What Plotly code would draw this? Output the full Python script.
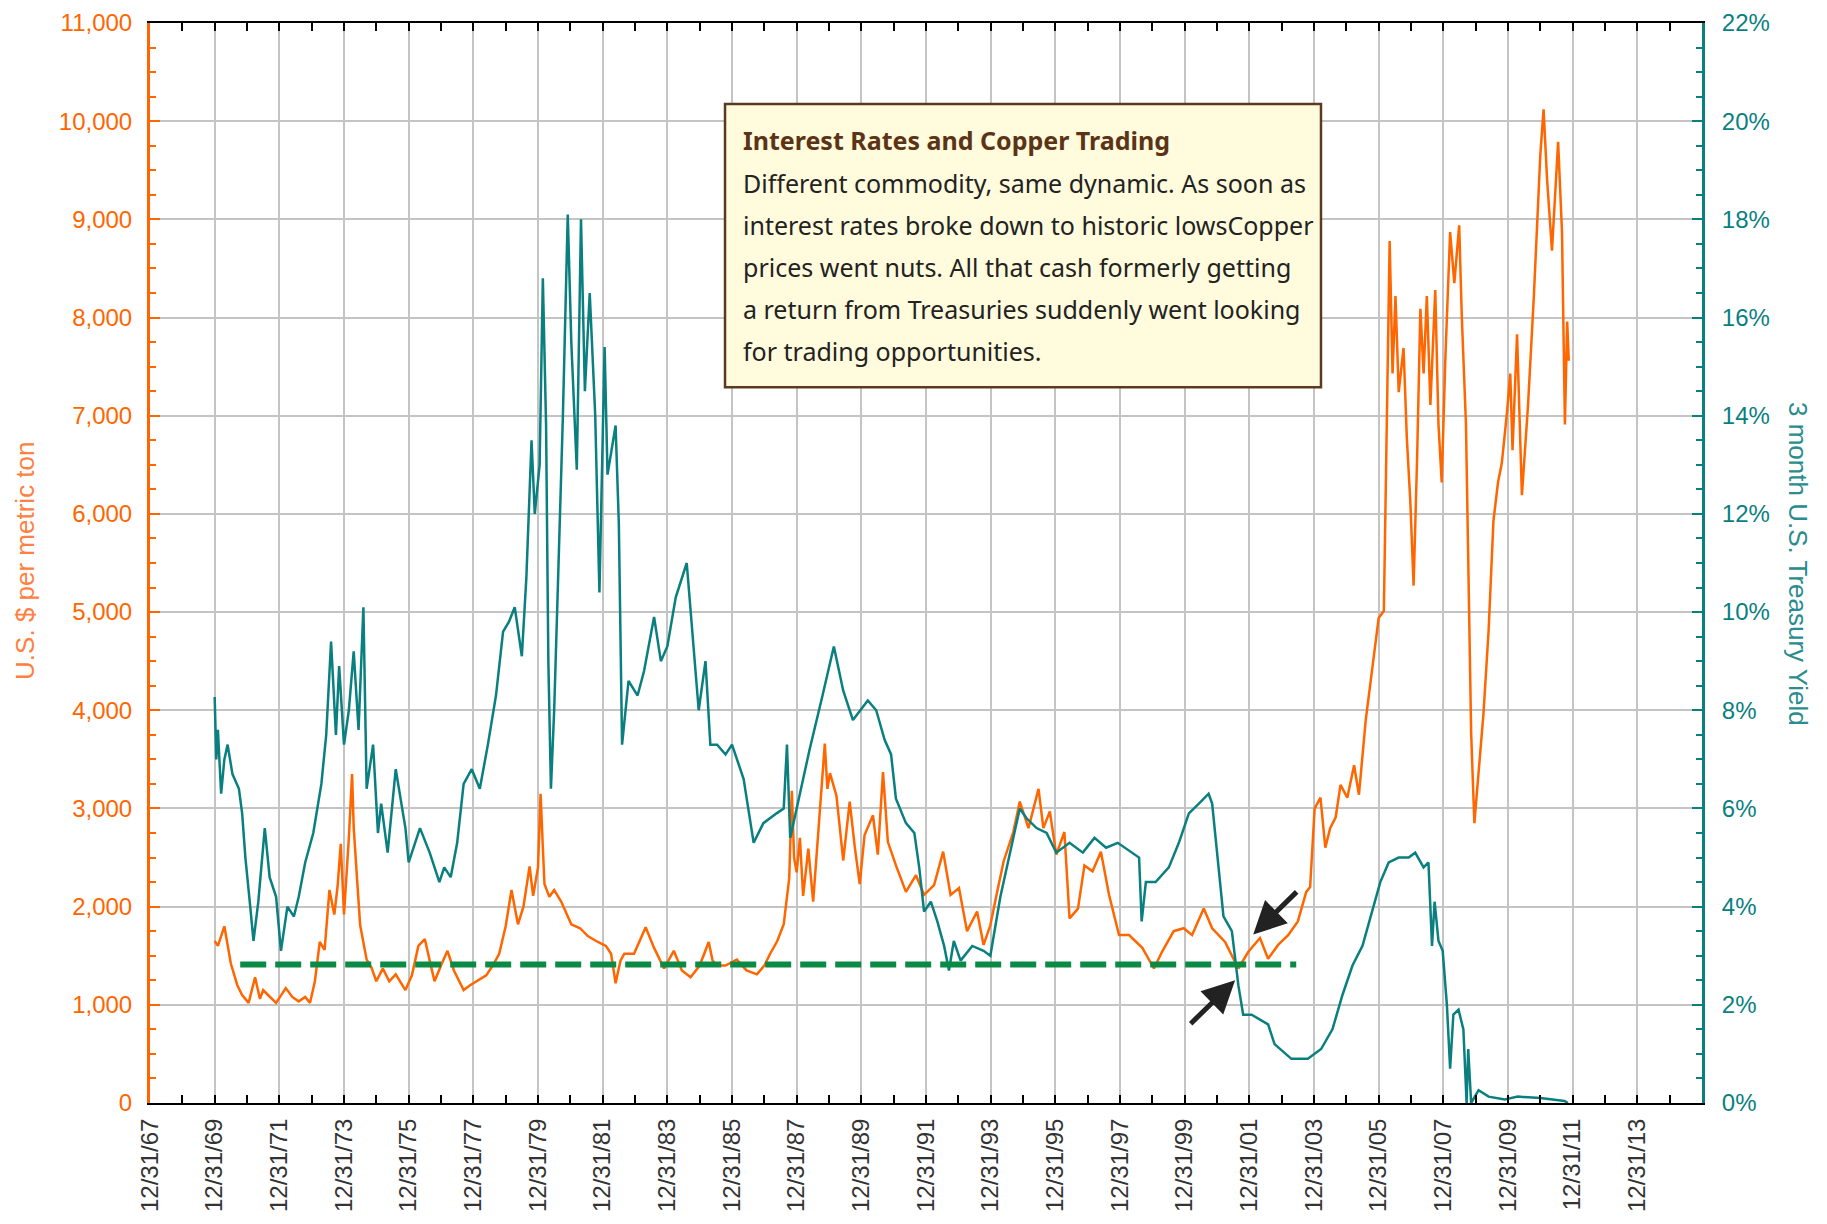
import plotly.graph_objects as go

# copper price, US$ per metric ton (x = decimal year)
copper_year = [
    1970.0, 1970.1, 1970.3, 1970.5, 1970.7, 1970.85, 1971.05, 1971.25, 1971.4, 1971.5,
    1971.65, 1971.9, 1972.2, 1972.4, 1972.6, 1972.8, 1972.95, 1973.1, 1973.25, 1973.4,
    1973.55, 1973.7, 1973.8, 1973.9, 1974.0, 1974.15, 1974.25, 1974.3, 1974.4, 1974.5,
    1974.7, 1974.85, 1975.0, 1975.2, 1975.4, 1975.6, 1975.9, 1976.1, 1976.3, 1976.5,
    1976.65, 1976.8, 1977.0, 1977.2, 1977.4, 1977.7, 1977.9, 1978.1, 1978.4, 1978.6,
    1978.8, 1979.0, 1979.18, 1979.38, 1979.55, 1979.74, 1979.85, 1980.0, 1980.08, 1980.15,
    1980.2, 1980.35, 1980.5, 1980.72, 1981.03, 1981.3, 1981.54, 1981.85, 1982.1, 1982.26,
    1982.4, 1982.55, 1982.67, 1982.97, 1983.15, 1983.33, 1983.59, 1983.9, 1984.2, 1984.45,
    1984.72, 1985.0, 1985.28, 1985.4, 1985.54, 1985.8, 1986.15, 1986.45, 1986.77, 1987.0,
    1987.18, 1987.4, 1987.6, 1987.77, 1987.85, 1987.92, 1988.0, 1988.1, 1988.2, 1988.36,
    1988.51, 1988.72, 1988.87, 1988.95, 1989.03, 1989.23, 1989.44, 1989.64, 1989.8, 1989.95,
    1990.1, 1990.36, 1990.51, 1990.67, 1990.82, 1991.07, 1991.38, 1991.69, 1991.94, 1992.25,
    1992.53, 1992.76, 1993.02, 1993.27, 1993.58, 1993.78, 1993.99, 1994.2, 1994.4, 1994.7,
    1994.9, 1995.17, 1995.48, 1995.63, 1995.83, 1996.03, 1996.28, 1996.44, 1996.7, 1996.9,
    1997.15, 1997.41, 1997.66, 1997.97, 1998.28, 1998.69, 1999.05, 1999.3, 1999.66, 1999.97,
    2000.23, 2000.59, 2000.85, 2001.25, 2001.66, 2001.97, 2002.33, 2002.58, 2002.89, 2003.2,
    2003.5, 2003.76, 2003.88, 2004.02, 2004.2, 2004.35, 2004.5, 2004.67, 2004.82, 2005.03,
    2005.24, 2005.39, 2005.6, 2005.8, 2006.0, 2006.16, 2006.26, 2006.34, 2006.43, 2006.52,
    2006.62, 2006.77, 2006.87, 2006.98, 2007.08, 2007.19, 2007.29, 2007.39, 2007.49, 2007.6,
    2007.75, 2007.85, 2007.95, 2008.06, 2008.21, 2008.34, 2008.49, 2008.57, 2008.7, 2008.8,
    2008.86, 2008.96, 2009.09, 2009.24, 2009.4, 2009.55, 2009.69, 2009.81, 2009.97, 2010.07,
    2010.14, 2010.28, 2010.43, 2010.62, 2010.8, 2010.9, 2011.0, 2011.1, 2011.21, 2011.36,
    2011.55, 2011.67, 2011.76, 2011.83, 2011.88,
]
copper_usd = [
    1650, 1600, 1800, 1420, 1200, 1100, 1020, 1280, 1060, 1150,
    1100, 1020, 1170, 1080, 1035, 1080, 1020, 1240, 1640, 1560,
    2170, 1920, 2200, 2640, 1920, 2700, 3350, 2810, 2300, 1810,
    1460, 1380, 1240, 1370, 1240, 1310, 1150, 1300, 1600, 1670,
    1450, 1240, 1400, 1550, 1350, 1150, 1200, 1240, 1300, 1400,
    1520, 1800, 2170, 1820, 2000, 2410, 2110, 2400, 3150, 2600,
    2230, 2100, 2170, 2050, 1820, 1780, 1700, 1640, 1600, 1520,
    1220, 1450, 1520, 1520, 1650, 1790, 1580, 1370, 1550, 1350,
    1280, 1400, 1640, 1450, 1400, 1400, 1460, 1350, 1310, 1400,
    1520, 1650, 1820, 2290, 3180, 2500, 2350, 2700, 2110, 2590,
    2050, 2950, 3660, 3200, 3360, 3130, 2470, 3070, 2600, 2230,
    2730, 2930, 2530, 3370, 2660, 2420, 2150, 2320, 2120, 2220,
    2560, 2120, 2190, 1750, 1950, 1610, 1810, 2150, 2460, 2760,
    3070, 2800, 3200, 2800, 2970, 2530, 2760, 1880, 1980, 2420,
    2360, 2560, 2120, 1710, 1710, 1580, 1370, 1540, 1750, 1780,
    1710, 1980, 1780, 1640, 1370, 1540, 1680, 1470, 1610, 1710,
    1850, 2150, 2200, 3000, 3110, 2600, 2800, 2910, 3240, 3110,
    3440, 3140, 3900, 4420, 4940, 5010, 6910, 8780, 7430, 8220,
    7240, 7690, 6780, 6120, 5270, 6580, 8090, 7430, 8220, 7110,
    8280, 6910, 6320, 7560, 8870, 8350, 8940, 8020, 6910, 4940,
    3770, 2850, 3370, 3960, 4810, 5930, 6320, 6520, 7040, 7430,
    6650, 7830, 6190, 7110, 8220, 9000, 9660, 10120, 9400, 8680,
    9790, 8870, 6910, 7960, 7560,
]

# 3 month U.S. Treasury yield, percent
yield_year = [
    1970.0, 1970.05, 1970.1, 1970.2, 1970.3, 1970.4, 1970.55, 1970.75, 1970.85, 1970.95,
    1971.1, 1971.2, 1971.35, 1971.55, 1971.7, 1971.9, 1972.05, 1972.25, 1972.45, 1972.6,
    1972.8, 1973.05, 1973.3, 1973.45, 1973.6, 1973.75, 1973.85, 1974.0, 1974.15, 1974.3,
    1974.45, 1974.6, 1974.7, 1974.9, 1975.05, 1975.15, 1975.35, 1975.6, 1975.9, 1976.0,
    1976.35, 1976.65, 1976.95, 1977.1, 1977.3, 1977.5, 1977.7, 1977.95, 1978.2, 1978.45,
    1978.7, 1978.92, 1979.1, 1979.28, 1979.5, 1979.64, 1979.8, 1979.9, 1980.05, 1980.15,
    1980.25, 1980.32, 1980.4, 1980.5, 1980.6, 1980.77, 1980.92, 1981.03, 1981.2, 1981.33,
    1981.45, 1981.6, 1981.77, 1981.9, 1982.06, 1982.15, 1982.4, 1982.5, 1982.6, 1982.8,
    1983.08, 1983.28, 1983.59, 1983.8, 1984.0, 1984.26, 1984.6, 1984.77, 1984.97, 1985.18,
    1985.33, 1985.54, 1985.8, 1986.0, 1986.36, 1986.67, 1986.97, 1987.38, 1987.6, 1987.7,
    1987.8, 1988.0, 1988.4, 1988.8, 1989.15, 1989.44, 1989.74, 1990.2, 1990.46, 1990.72,
    1990.92, 1991.07, 1991.38, 1991.64, 1991.79, 1991.94, 1992.15, 1992.35, 1992.56, 1992.71,
    1992.86, 1993.07, 1993.43, 1993.78, 1993.99, 1994.3, 1994.6, 1994.9, 1995.11, 1995.42,
    1995.73, 1996.03, 1996.44, 1996.85, 1997.21, 1997.57, 1997.93, 1998.39, 1998.59, 1998.67,
    1998.8, 1999.1, 1999.51, 1999.82, 2000.13, 2000.44, 2000.74, 2000.85, 2001.0, 2001.2,
    2001.46, 2001.66, 2001.81, 2002.07, 2002.58, 2002.78, 2003.3, 2003.81, 2004.22, 2004.57,
    2004.88, 2005.19, 2005.5, 2005.8, 2006.05, 2006.31, 2006.62, 2006.93, 2007.13, 2007.39,
    2007.54, 2007.65, 2007.73, 2007.85, 2007.98, 2008.11, 2008.21, 2008.31, 2008.47, 2008.62,
    2008.72, 2008.77, 2008.86, 2009.09, 2009.4, 2009.9, 2010.3, 2011.0, 2011.75, 2011.85,
]
yield_pct = [
    8.27, 7.0, 7.6, 6.3, 7.0, 7.3, 6.7, 6.4, 5.9, 5.0,
    4.0, 3.3, 4.1, 5.6, 4.6, 4.2, 3.1, 4.0, 3.8, 4.2,
    4.9, 5.5, 6.5, 7.5, 9.4, 7.5, 8.9, 7.3, 8.0, 9.2,
    7.6, 10.1, 6.4, 7.3, 5.5, 6.1, 5.1, 6.8, 5.6, 4.9,
    5.6, 5.1, 4.5, 4.8, 4.6, 5.3, 6.5, 6.8, 6.4, 7.3,
    8.3, 9.6, 9.8, 10.1, 9.1, 10.7, 13.5, 12.0, 13.0, 16.8,
    13.8, 9.0, 6.4, 8.0, 10.2, 14.0, 18.1, 15.5, 12.9, 18.0,
    14.5, 16.5, 14.0, 10.4, 15.4, 12.8, 13.8, 11.8, 7.3, 8.6,
    8.3, 8.8, 9.9, 9.0, 9.3, 10.3, 11.0, 9.7, 8.0, 9.0,
    7.3, 7.3, 7.1, 7.3, 6.6, 5.3, 5.7, 5.9, 6.0, 7.3,
    5.4, 6.0, 7.2, 8.3, 9.3, 8.4, 7.8, 8.2, 8.0, 7.4,
    7.1, 6.2, 5.7, 5.5, 4.8, 3.9, 4.1, 3.7, 3.2, 2.7,
    3.3, 2.9, 3.2, 3.1, 3.0, 4.2, 5.1, 6.0, 5.8, 5.6,
    5.5, 5.1, 5.3, 5.1, 5.4, 5.2, 5.3, 5.1, 5.0, 3.7,
    4.5, 4.5, 4.8, 5.3, 5.9, 6.1, 6.3, 6.1, 5.1, 3.8,
    3.5, 2.4, 1.8, 1.8, 1.6, 1.2, 0.9, 0.9, 1.1, 1.5,
    2.2, 2.8, 3.2, 3.9, 4.5, 4.9, 5.0, 5.0, 5.1, 4.8,
    4.9, 3.2, 4.1, 3.3, 3.1, 2.0, 0.7, 1.8, 1.9, 1.5,
    0.0, 1.1, 0.0, 0.26, 0.13, 0.07, 0.13, 0.1, 0.04, 0.0,
]

x_tick_years = list(range(1968, 2016, 2))
x_tick_labels = [f"12/31/{(y - 1) % 100:02d}" for y in x_tick_years]
copper_ticks = list(range(0, 11001, 1000))
yield_ticks = list(range(0, 23, 2))
yield_labels = [f"{v}%" for v in yield_ticks]

# level the copper floor sat at, and the span of the dashed guide
floor_level = 1410
floor_start, floor_end = 1970.79, 2003.45

note_title = "Interest Rates and Copper Trading"
note_lines = [
    "Different commodity, same dynamic. As soon as",
    "interest rates broke down to historic lowsCopper",
    "prices went nuts. All that cash formerly getting",
    "a return from Treasuries suddenly went looking",
    "for trading opportunities.",
]

ORANGE = "#ff6600"
TEAL = "#0a7f7f"
GRID = "#c4c4c4"
TICK_FONT = "Liberation Sans, Arial, sans-serif"
NOTE_FONT = "Noto Sans, sans-serif"

fig = go.Figure()
fig.add_trace(go.Scatter(x=copper_year, y=copper_usd, mode="lines",
                         line=dict(color=ORANGE, width=2.5), yaxis="y"))
fig.add_trace(go.Scatter(x=yield_year, y=yield_pct, mode="lines",
                         line=dict(color=TEAL, width=2.5), yaxis="y2"))

# the page body adds an 8px margin, so the canvas is trimmed by that much
fig.update_layout(
    width=1811,
    height=1208,
    margin=dict(l=142, r=117, t=15, b=113),
    paper_bgcolor="white",
    plot_bgcolor="white",
    showlegend=False,
    xaxis=dict(
        range=[1968, 2016],
        automargin=False,
        tickmode="array",
        tickvals=x_tick_years,
        ticktext=x_tick_labels,
        tickangle=-90,
        tickfont=dict(family=TICK_FONT, size=24, color="#333333"),
        ticklabelstandoff=4,
        ticklabeloverflow="allow",
        ticks="inside", ticklen=8, tickwidth=2, tickcolor="black",
        showline=True, linecolor="black", linewidth=2, mirror="allticks",
        showgrid=True, gridcolor=GRID, gridwidth=2, zeroline=False,
        minor=dict(tickmode="linear", tick0=1968, dtick=1, ticks="inside",
                   ticklen=7, tickwidth=2, tickcolor="black", showgrid=False),
    ),
    yaxis=dict(
        range=[0, 11000],
        automargin=False,
        tickmode="array",
        tickvals=copper_ticks,
        tickformat=",d",
        tickfont=dict(family=TICK_FONT, size=24, color=ORANGE),
        ticks="inside", ticklen=10, tickwidth=2, tickcolor=ORANGE,
        ticklabelstandoff=10,
        ticklabeloverflow="allow",
        showline=True, linecolor=ORANGE, linewidth=3,
        showgrid=True, gridcolor=GRID, gridwidth=2, zeroline=False,
        minor=dict(dtick=250, ticks="inside", ticklen=6, tickwidth=2,
                   tickcolor=ORANGE, showgrid=False),
    ),
    yaxis2=dict(
        range=[0, 22],
        automargin=False,
        overlaying="y",
        side="right",
        tickmode="array",
        tickvals=yield_ticks,
        ticktext=yield_labels,
        tickfont=dict(family=TICK_FONT, size=24, color=TEAL),
        ticks="inside", ticklen=10, tickwidth=2, tickcolor=TEAL,
        ticklabelstandoff=12,
        ticklabeloverflow="allow",
        showline=True, linecolor=TEAL, linewidth=3,
        showgrid=False, zeroline=False,
        minor=dict(dtick=0.5, ticks="inside", ticklen=6, tickwidth=2,
                   tickcolor=TEAL, showgrid=False),
    ),
)

# axis titles
fig.add_annotation(text="U.S. $ per metric ton", xref="paper", yref="paper",
                   x=-0.0805, y=0.502, xanchor="center", yanchor="middle",
                   textangle=-90, showarrow=False,
                   font=dict(family=TICK_FONT, size=26, color="#ff8040"))
fig.add_annotation(text="3 month U.S. Treasury Yield", xref="paper", yref="paper",
                   x=1.0619, y=0.499, xanchor="center", yanchor="middle",
                   textangle=90, showarrow=False,
                   font=dict(family=TICK_FONT, size=26, color="#2a8c8c"))

# dashed floor line
fig.add_shape(type="line", xref="x", yref="y", x0=floor_start, x1=floor_end,
              y0=floor_level, y1=floor_level, layer="above",
              line=dict(color="#0b8a45", width=6, dash="26px,9px"))

# arrows pointing at the crossover
fig.add_annotation(x=2002.12, y=1717, ax=2003.51, ay=2165, xref="x", yref="y",
                   axref="x", ayref="y", text="", showarrow=True, arrowhead=2,
                   arrowsize=1.3, arrowwidth=5, arrowcolor="#222222")
fig.add_annotation(x=2001.56, y=1250, ax=2000.14, ay=793, xref="x", yref="y",
                   axref="x", ayref="y", text="", showarrow=True, arrowhead=2,
                   arrowsize=1.3, arrowwidth=5, arrowcolor="#222222")

# note box
fig.add_shape(type="rect", xref="paper", yref="paper", x0=0.3705, x1=0.7545,
              y0=0.6627, y1=0.9251, layer="above",
              fillcolor="#fffbdc", line=dict(color="#5c3a21", width=2.5))
fig.add_annotation(text=f"<b>{note_title}</b>", xref="paper", yref="paper",
                   x=0.3808, y=0.8914, xanchor="left", yanchor="middle",
                   showarrow=False, font=dict(family=NOTE_FONT, size=25, color="#5b3417"))
for i, line in enumerate(note_lines):
    fig.add_annotation(text=line, xref="paper", yref="paper",
                       x=0.3808, y=0.8516 - i * 0.0389, xanchor="left", yanchor="middle",
                       showarrow=False, font=dict(family=NOTE_FONT, size=25, color="#222222"))

fig.write_html("out.html")
